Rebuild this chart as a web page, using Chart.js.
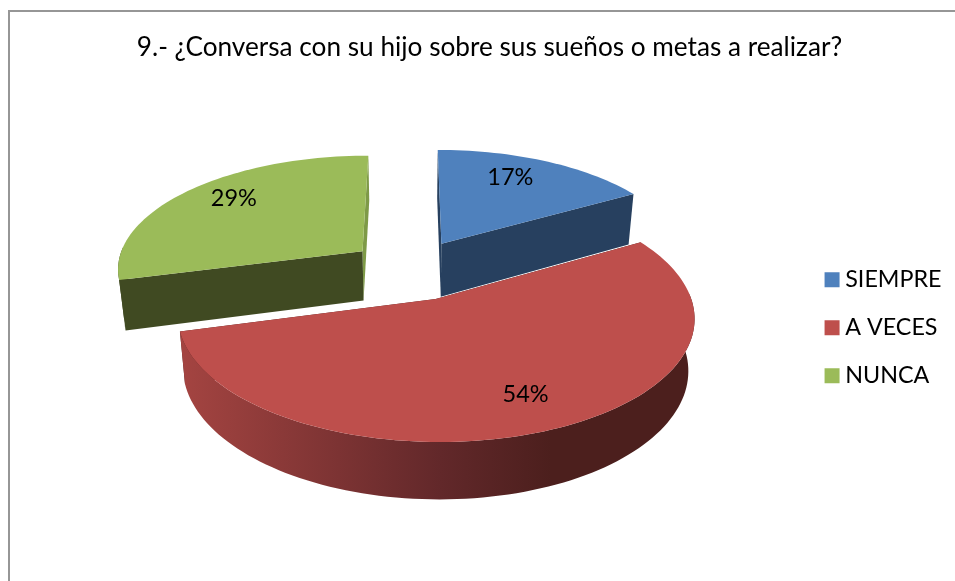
<!DOCTYPE html>
<html lang="es">
<head>
    <meta charset="UTF-8">
    <title>Pregunta 9</title>
    <script src="https://cdn.jsdelivr.net/npm/chart.js"></script>
    <style>
        html, body { margin: 0; padding: 0; background: #fff; overflow: hidden; }
        #wrap { position: relative; width: 955px; height: 581px; }
        #frame {
            position: absolute; left: 8px; top: 10px; right: 0; bottom: 0;
            border-left: 2px solid #969696; border-top: 2px solid #969696;
        }
        canvas { position: absolute; left: 0; top: 0; }
    </style>
</head>
<body>
<div id="wrap">
    <div id="frame"></div>
    <canvas id="chart" width="955" height="581"></canvas>
</div>
<script>
    const chartTitle = '9.- ¿Conversa con su hijo sobre sus sueños o metas a realizar?';
    const categories = ['SIEMPRE', 'A VECES', 'NUNCA'];
    const percents = [16.7, 54.2, 29.1];
    const topColors = ['#4F81BD', '#BE4F4C', '#9BBB59'];
    const wallLight = ['#27405F', '#A44441', '#404A22'];
    const wallMid = ['#27405F', '#62282A', '#404A22'];
    const wallDark = ['#27405F', '#4C1F1D', '#404A22'];
    const endWallColors = ['#27405F', '#4C1F1D', '#7E9A47'];

    // the old 3d pie look: perspective view of a flat disc
    const view = { cx: 411, cy: 269.6, a: 246.7, b: 113.8, k: 0.14, shrink: 0.978 };
    const sliceDepth = [54, 50, 50];
    const explodeX = 0.254;
    const explodeY = 0.27;
    const labelRadius = 0.76;
    const labelNudge = [[-12, -2], [5, 0], [5, -5]];

    function project(u, v) {
        const s = 1 / (1 - view.k * v);
        return { x: view.cx + view.a * u * s, y: view.cy + view.b * v * s, s: s };
    }

    function lower(p, depth) {
        return {
            x: view.cx + (p.x - view.cx) * view.shrink,
            y: p.y + depth * (1 + (p.s - 1) * 0.7)
        };
    }

    function polygon(ctx, points, fill) {
        ctx.beginPath();
        points.forEach((p, i) => i ? ctx.lineTo(p.x, p.y) : ctx.moveTo(p.x, p.y));
        ctx.closePath();
        ctx.fillStyle = fill;
        ctx.fill();
    }

    function sliceGeometry(arc) {
        const mid = (arc.startAngle + arc.endAngle) / 2;
        const ox = Math.cos(mid) * explodeX;
        const oy = Math.sin(mid) * explodeY;
        const rim = [];
        const front = [];
        const steps = Math.ceil((arc.endAngle - arc.startAngle) / 0.03);
        for (let i = 0; i <= steps; i++) {
            const a = arc.startAngle + (arc.endAngle - arc.startAngle) * i / steps;
            const p = project(ox + Math.cos(a), oy + Math.sin(a));
            rim.push(p);
            if (Math.sin(a) > -0.05) front.push(p);
        }
        return { mid, ox, oy, rim, front, apex: project(ox, oy) };
    }

    const pie3d = {
        id: 'pie3d',
        beforeDatasetDraw(chart, args) {
            const ctx = chart.ctx;
            const arcs = args.meta.data;
            // back to front: green, blue, then the red one
            [2, 0, 1].forEach(i => {
                const g = sliceGeometry(arcs[i]);
                const first = g.rim[0];
                const last = g.rim[g.rim.length - 1];
                const d = sliceDepth[i];

                polygon(ctx, [g.apex, last, lower(last, d), lower(g.apex, d)], endWallColors[i]);
                polygon(ctx, [g.apex, first, lower(first, d), lower(g.apex, d)], wallDark[i]);

                if (g.front.length > 1) {
                    const side = ctx.createLinearGradient(view.cx - 229, 0, view.cx + 140, 0);
                    side.addColorStop(0, wallLight[i]);
                    side.addColorStop(0.7, wallMid[i]);
                    side.addColorStop(1, wallDark[i]);
                    polygon(ctx, g.front.concat(g.front.map(p => lower(p, d)).reverse()), side);
                }

                polygon(ctx, [g.apex].concat(g.rim), arcs[i].options.backgroundColor);
            });
            return false; // keeps the flat arcs from being painted on top
        },
        afterDatasetsDraw(chart) {
            const ctx = chart.ctx;
            ctx.fillStyle = '#000';
            ctx.font = '23.5px Lato';
            ctx.textAlign = 'center';
            ctx.textBaseline = 'middle';
            chart.getDatasetMeta(0).data.forEach((arc, i) => {
                const g = sliceGeometry(arc);
                const p = project(g.ox + Math.cos(g.mid) * labelRadius, g.oy + Math.sin(g.mid) * labelRadius);
                ctx.fillText(Math.round(percents[i]) + '%', p.x + labelNudge[i][0], p.y + labelNudge[i][1]);
            });
        }
    };

    new Chart(document.getElementById('chart'), {
        type: 'pie',
        data: {
            labels: categories,
            datasets: [{ data: percents, backgroundColor: topColors, borderWidth: 0 }]
        },
        plugins: [pie3d],
        options: {
            responsive: false,
            animation: false,
            layout: { padding: { left: 27.5, right: 3.5, top: 32, bottom: 0 } },
            plugins: {
                tooltip: { enabled: false },
                title: {
                    display: true,
                    text: chartTitle,
                    color: '#000',
                    font: { family: 'Lato', size: 26.2, weight: 'normal' },
                    padding: { top: 0, bottom: 11 }
                },
                legend: {
                    position: 'right',
                    fullSize: false,
                    labels: {
                        color: '#000',
                        font: { family: 'Lato', size: 23.3, lineHeight: 1 },
                        padding: 24.7,
                        // small box with a thick stroke keeps the text close to the 15px swatch
                        boxWidth: 3,
                        boxHeight: 3,
                        generateLabels: () => categories.map((name, i) => ({
                            text: name,
                            fillStyle: topColors[i],
                            strokeStyle: topColors[i],
                            lineWidth: 12,
                            index: i
                        }))
                    }
                }
            }
        }
    });
</script>
</body>
</html>
